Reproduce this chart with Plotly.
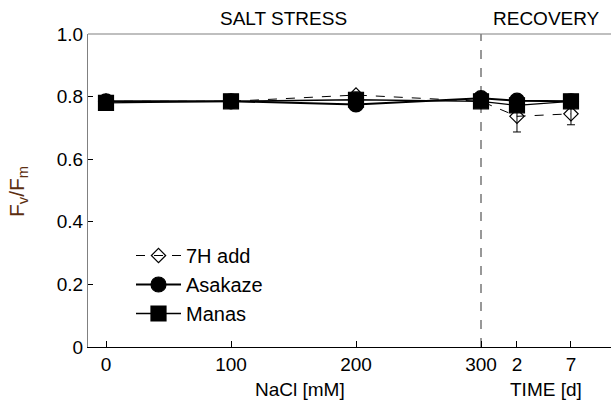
import plotly.graph_objects as go

# x categories: NaCl concentrations (mM) during stress, then days of recovery
nacl_mm = [0, 100, 200, 300]
recovery_days = [2, 7]
nacl_ticktext = ["0", "100", "200", "300"]
day_ticktext = ["2", "7"]

# Fv/Fm values (stress points then recovery points)
h7_add = [0.785, 0.785, 0.805, 0.785, 0.737, 0.745]
h7_add_err = [0.01, 0.01, 0.01, 0.01, 0.05, 0.035]
asakaze = [0.785, 0.785, 0.775, 0.795, 0.787, 0.785]
asakaze_err = [0.01, 0.008, 0.01, 0.01, 0.01, 0.01]
manas = [0.78, 0.785, 0.79, 0.785, 0.772, 0.785]
manas_err = [0.012, 0.008, 0.01, 0.01, 0.01, 0.01]

# recovery section of the broken x axis: start offset and units per day
RECOVERY_OFFSET = 11.5
DAY_SCALE = 8.64
x_pos = nacl_mm + [nacl_mm[-1] + RECOVERY_OFFSET + d * DAY_SCALE for d in recovery_days]

fig = go.Figure()

def add(name, y, err, symbol, dash, size, lw):
    fig.add_trace(go.Scatter(
        x=x_pos, y=y, name=name, mode="lines+markers",
        line=dict(color="black", width=lw, dash=dash),
        marker=dict(symbol=symbol, size=size, color="black",
                    line=dict(color="black", width=1.2)),
        error_y=dict(type="data", array=err, color="black", thickness=1, width=4),
    ))

add("7H add", h7_add, h7_add_err, "diamond-open", "dash", 11, 1)
add("Asakaze", asakaze, asakaze_err, "circle", "solid", 15, 2)
add("Manas", manas, manas_err, "square", "solid", 15, 1.3)

# vertical dashed separator at 300 mM
fig.add_shape(type="line", x0=nacl_mm[-1], x1=nacl_mm[-1], y0=0, y1=1, xref="x", yref="y",
              line=dict(color="#777777", width=1.5, dash="dash"), layer="below")

FAM = "Liberation Sans, Arial, sans-serif"
font = dict(family=FAM, size=19, color="black")
tickfont = dict(family=FAM, size=19, color="black")

L, R, T, B = 88, 0, 34, 60
PW, PH = 611 - L - R, 407 - T - B

annotations = [
    dict(text="SALT STRESS", x=283, y=18),
    dict(text="RECOVERY", x=546, y=18),
    dict(text="NaCl [mM]", x=300, y=389),
    dict(text="TIME [d]", x=546, y=389),
]
for a in annotations:
    fig.add_annotation(text=a["text"], x=(a["x"] - L) / PW, y=(407 - B - a["y"]) / PH,
                       xref="paper", yref="paper", showarrow=False,
                       xanchor="center", yanchor="middle", font=font)

fig.add_annotation(text="F<sub>v</sub>/F<sub>m</sub>", x=(18 - L) / PW, y=(407 - B - 192) / PH,
                   xref="paper", yref="paper", showarrow=False, textangle=-90,
                   xanchor="center", yanchor="middle",
                   font=dict(family=FAM, size=21, color="#5c2e10"))

fig.update_layout(
    width=611, height=407,
    margin=dict(l=L, r=R, t=T, b=B),
    paper_bgcolor="white", plot_bgcolor="white",
    font=font,
    showlegend=True,
    legend=dict(x=(131 - L) / PW, y=(407 - B - 236) / PH, xanchor="left", yanchor="top",
                bgcolor="rgba(0,0,0,0)", font=dict(family=FAM, size=20, color="black"),
                tracegroupgap=0, itemwidth=45),
    xaxis=dict(range=[-14.4, 404], showgrid=False, zeroline=False,
               tickvals=x_pos, ticktext=nacl_ticktext + day_ticktext, tickfont=tickfont,
               ticks="inside", ticklen=6, tickcolor="black", tickwidth=1,
               showline=True, linecolor="black", linewidth=1.2, mirror=False),
    yaxis=dict(range=[0, 1], showgrid=False, zeroline=False,
               tickvals=[0, 0.2, 0.4, 0.6, 0.8, 1.0],
               ticktext=["0", "0.2", "0.4", "0.6", "0.8", "1.0"], tickfont=tickfont,
               ticks="inside", ticklen=5, tickcolor="black",
               showline=True, linecolor="#808080", linewidth=1.2, mirror=False),
)
# top border line (gray)
fig.add_shape(type="line", x0=0, x1=1, y0=1, y1=1, xref="paper", yref="paper",
              line=dict(color="#808080", width=1.2))

fig.write_html("out.html", config={"displayModeBar": False},
               post_script="document.body.style.margin='0';")
